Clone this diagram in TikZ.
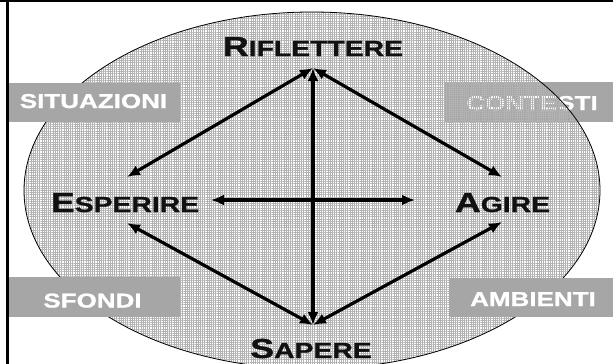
\documentclass[tikz,border=0pt]{standalone}
\usepackage{fontspec}
\usetikzlibrary{arrows.meta,patterns.meta}
\newfontfamily\cpfont[FakeStretch=1.3, FakeBold=1.2]{Liberation Sans}
\definecolor{lblgray}{HTML}{A6A6A6}
\definecolor{txtblack}{HTML}{111111}
\newcommand\capword[2]{{\fontsize{27.5}{27.5}\selectfont #1}{\fontsize{21.8}{21.8}\selectfont #2}}
\tikzset{
  lblbox/.style={fill=lblgray, draw=none},
  lbltext/.style={text=white, font=\cpfont\bfseries\fontsize{20}{20}\selectfont, anchor=base, inner sep=0pt},
  wordtext/.style={text=txtblack, font=\cpfont\bfseries, anchor=base, inner sep=0pt},
  dblarrow/.style={line width=3.2pt, {Latex[length=13pt,width=11pt]}-{Latex[length=13pt,width=11pt]}},
  texture/.style={pattern={Hatch[distance=2.2pt, angle=0, line width=0.35pt]}, pattern color=gray!60}
}
\begin{document}
\begin{tikzpicture}[x=1pt,y=-1pt]
\useasboundingbox (0,0) rectangle (613,364);
\fill[white] (0,0) rectangle (613,364);
% box under the ellipse
\fill[lblbox] (445,82) rectangle (613,122);
\node[lbltext] (contesti) at (532,110) {CONTESTI};
% ellipse
\coordinate (ec) at (312,190.5);
\fill[texture] (ec) ellipse [x radius=288pt, y radius=178.5pt];
\draw[line width=0.8pt] (ec) ellipse [x radius=288pt, y radius=178.5pt];
% boxes over the ellipse
\fill[lblbox] (7,83) rectangle (180,122);
\fill[lblbox] (7,277) rectangle (180,317);
\fill[lblbox] (449,278) rectangle (613,317);
\node[lbltext] (situazioni) at (93.5,108) {SITUAZIONI};
\node[lbltext] (sfondi) at (92.5,307.5) {SFONDI};
\node[lbltext] (ambienti) at (533,306) {AMBIENTI};
% main words
\node[wordtext] (riflettere) at (313,56) {\capword{R}{IFLETTERE}};
\node[wordtext] (esperire) at (125,212) {\capword{E}{SPERIRE}};
\node[wordtext] (agire) at (502.5,212) {\capword{A}{GIRE}};
\node[wordtext] (sapere) at (311,358) {\capword{S}{APERE}};
% arrow end points
\coordinate (top) at (313,68);
\coordinate (bot) at (313,325);
\coordinate (ul) at (127,177);
\coordinate (ur) at (502,177);
\coordinate (ll) at (127,223);
\coordinate (lr) at (502,222);
\coordinate (hl) at (211,200);
\coordinate (hr) at (415,200);
\draw[dblarrow] (ul) -- (top);
\draw[dblarrow] (ur) -- (top);
\draw[dblarrow] (ll) -- (bot);
\draw[dblarrow] (lr) -- (bot);
\draw[dblarrow] (top) -- (bot);
\draw[dblarrow] (hl) -- (hr);
% frame
\draw[line width=2pt] (0,1.3) -- (613,1.3);
\draw[line width=3pt] (7.5,0) -- (7.5,364);
\end{tikzpicture}
\end{document}
